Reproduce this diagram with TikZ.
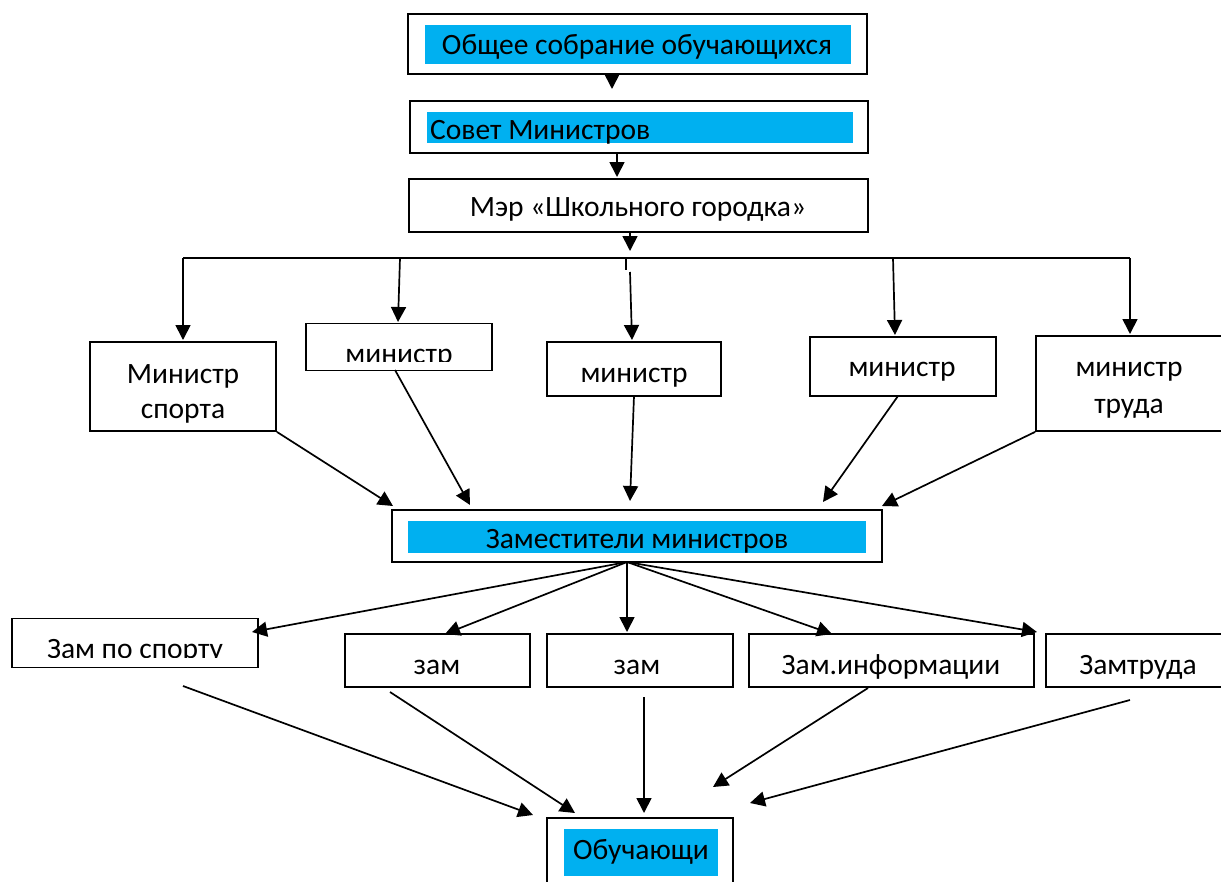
\documentclass[tikz,border=0pt]{standalone}
\usepackage{fontspec}
\setmainfont{Carlito}
\usetikzlibrary{arrows.meta}
\definecolor{cyanfill}{RGB}{0,176,240}
\begin{document}
\begin{tikzpicture}[x=1pt,y=-1pt,
  box/.style={draw, line width=1.8pt, inner sep=0pt},
  fillbox/.style={fill=cyanfill, inner sep=0pt},
  lbl/.style={font=\fontsize{29.5}{36}\selectfont, inner sep=0pt},
  arr/.style={line width=1.7pt, -{Triangle[length=15pt,width=15pt]}},
  ln/.style={line width=1.7pt}]
\useasboundingbox (0,0) rectangle (1221,881);
% top three boxes
\node[box, minimum width=459pt, minimum height=60pt] (top) at (637.5,44) {};
\node[fillbox, minimum width=426pt, minimum height=39pt] (topf) at (638,44.5) {};
\node[lbl, anchor=base] (toptxt) at (637,54) {Общее собрание обучающихся};
\node[box, minimum width=458pt, minimum height=52pt] (sov) at (639,127) {};
\node[fillbox, minimum width=426pt, minimum height=31pt] (sovf) at (640,127.5) {};
\node[lbl, anchor=base west] (sovtxt) at (430,139) {Совет Министров};
\node[box, minimum width=459pt, minimum height=53pt] (mer) at (638.5,205.5) {};
\node[lbl, anchor=base] (mertxt) at (638,216) {Мэр «Школьного городка»};
% ministers
\node[box, minimum width=186pt, minimum height=89pt] (m1) at (183,386.5) {};
\node[lbl, anchor=base] (m1t) at (183,383) {Министр};
\node[lbl, anchor=base] (m1u) at (183,418) {спорта};
\node[box, minimum width=186pt, minimum height=47pt] (m2) at (399,347) {};
\begin{scope}
  \clip (300,330) rectangle (500,361);
  \node[lbl, anchor=base] (m2t) at (399,363) {министр};
\end{scope}
\node[box, minimum width=174pt, minimum height=54pt] (m3) at (634,369) {};
\node[lbl, anchor=base] (m3t) at (634,382) {министр};
\node[box, minimum width=186pt, minimum height=59pt] (m4) at (903,366.5) {};
\node[lbl, anchor=base] (m4t) at (902,376) {министр};
\node[box, minimum width=187pt, minimum height=95pt] (m5) at (1129.5,383.5) {};
\node[lbl, anchor=base] (m5t) at (1129,376) {министр};
\node[lbl, anchor=base] (m5u) at (1129,413) {труда};
% deputies
\node[box, minimum width=490pt, minimum height=52pt] (zm) at (637,536) {};
\node[fillbox, minimum width=458pt, minimum height=32pt] (zmf) at (637,537) {};
\node[lbl, anchor=base] (zmt) at (637,548) {Заместители министров};
\node[box, minimum width=246pt, minimum height=49pt] (z1) at (135,643) {};
\begin{scope}
  \clip (10,625) rectangle (260,657);
  \node[lbl, anchor=base] (z1t) at (135,658.5) {Зам по спорту};
\end{scope}
\node[box, minimum width=185pt, minimum height=53pt] (z2) at (437.5,660.5) {};
\node[lbl, anchor=base] (z2t) at (437,674) {зам};
\node[box, minimum width=186pt, minimum height=53pt] (z3) at (640,660.5) {};
\node[lbl, anchor=base] (z3t) at (637,674) {зам};
\node[box, minimum width=285pt, minimum height=53pt] (z4) at (891.5,660.5) {};
\node[lbl, anchor=base] (z4t) at (891,674) {Зам.информации};
\node[box, minimum width=178pt, minimum height=53pt] (z5) at (1135,660.5) {};
\node[lbl, anchor=base] (z5t) at (1138,674) {Замтруда};
% students
\node[box, minimum width=186pt, minimum height=82pt] (ob) at (640,859) {};
\node[fillbox, minimum width=154pt, minimum height=47pt] (obf) at (641,852.5) {};
\node[lbl, anchor=base] (obt) at (641,859) {Обучающи};
% coordinates
\coordinate (hl) at (183,258);
\coordinate (hr) at (1130,258);
\coordinate (h2) at (400,258);
\coordinate (h4) at (893,258);
\coordinate (tk1) at (626,258);
\coordinate (tk2) at (626,270);
\coordinate (h3) at (630,272);
\coordinate (zsrc) at (627,562);
\coordinate (g1s) at (183,686);
\coordinate (g2s) at (390,692);
\coordinate (g3s) at (644,697);
\coordinate (g4s) at (868,688);
\coordinate (g5s) at (1130,700);
% connectors top
\draw[arr] (612,74) -- (612,89);
\draw[arr] (617,153) -- (617,177);
\draw[arr] (630,232) -- (630,251);
\draw[ln] (hl) -- (hr);
\draw[ln] (tk1) -- (tk2);
\draw[arr] (hl) -- (183,340);
\draw[arr] (h2) -- (398,322);
\draw[arr] (h3) -- (632,340);
\draw[arr] (h4) -- (895,335);
\draw[arr] (hr) -- (1130,334);
% ministers to deputies
\draw[arr] (m1.south east) -- (393,506);
\draw[arr] (395,370) -- (470,505);
\draw[arr] (634,396) -- (630,501);
\draw[arr] (898,396) -- (823,502);
\draw[arr] (m5.south west) -- (882,506);
% deputies to zams
\draw[arr] (zsrc) -- (252,632);
\draw[arr] (zsrc) -- (445,634);
\draw[arr] (zsrc) -- (627,632);
\draw[arr] (zsrc) -- (832,634);
\draw[arr] (zsrc) -- (1037,632);
% zams to students
\draw[arr] (g1s) -- (533,815);
\draw[arr] (g2s) -- (575,813);
\draw[arr] (g3s) -- (644,813);
\draw[arr] (g4s) -- (713,787);
\draw[arr] (g5s) -- (750,803);
\end{tikzpicture}
\end{document}
